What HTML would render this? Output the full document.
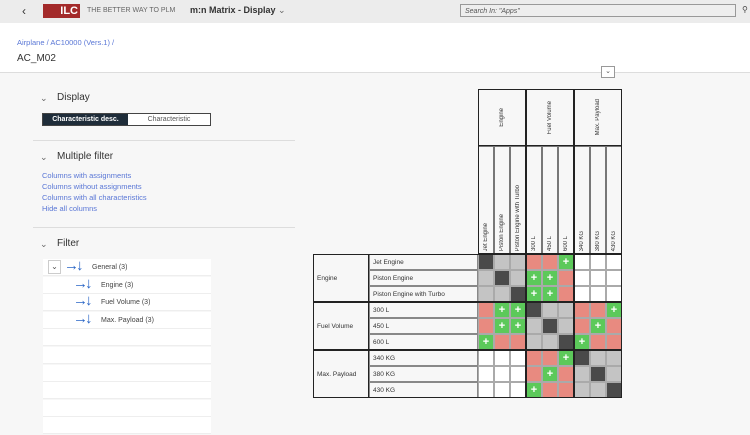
<!DOCTYPE html>
<html><head><meta charset="utf-8"><style>
body{margin:0;width:750px;height:435px;overflow:hidden;background:#f7f7f7;font-family:"Liberation Sans",sans-serif;position:relative}
.a{position:absolute}
.lnk{color:#5a77d6;font-size:7.5px}
.h{font-size:10px;color:#333}
.chev{font-size:9px;color:#666}
.fr{position:absolute;left:43px;width:168px;height:16px;background:#fff;border-bottom:1px solid #eee}
.arr{color:#2a66c6;font-size:15px;line-height:14px;font-weight:bold}
.cell{position:absolute;box-sizing:border-box;border:1px solid #999;display:flex;align-items:center;justify-content:center;color:#fff;font-weight:bold;font-size:11px}
.vt{position:absolute;writing-mode:vertical-rl;transform:rotate(180deg);font-size:6px;color:#333;white-space:nowrap}
.rl{position:absolute;font-size:6.5px;color:#333;background:#f7f7f7;box-sizing:border-box;border:1px solid #888;padding-left:3px;display:flex;align-items:center}
</style></head><body>
<div class="a" style="left:0;top:0;width:750px;height:23px;background:#ececec"></div>
<div class="a" style="left:22px;top:4px;font-size:12px;color:#333">&#8249;</div>
<div class="a" style="left:43px;top:4px;width:37px;height:14px;background:#a32a2a;color:#fff;font-weight:bold;font-size:11px;line-height:14px;text-align:right;padding-right:2px;box-sizing:border-box">ILC</div>
<div class="a" style="left:87px;top:7px;font-size:7px;color:#666">THE BETTER WAY TO PLM</div>
<div class="a" style="left:190px;top:5px;font-size:9px;font-weight:bold;color:#333">m:n Matrix - Display <span style="font-weight:normal;color:#666">&#8964;</span></div>
<div class="a" style="left:460px;top:4px;width:276px;height:13px;border:1px solid #999;background:#eee;font-size:7px;font-style:italic;color:#555;line-height:13px;padding-left:4px;box-sizing:border-box">Search In: "Apps"</div>
<div class="a" style="left:742px;top:5px;font-size:8px;color:#444">&#9906;</div>
<div class="a" style="left:0;top:23px;width:750px;height:49px;background:#fff;border-bottom:1px solid #ddd"></div>
<div class="a lnk" style="left:17px;top:38px">Airplane / AC10000 (Vers.1) /</div>
<div class="a" style="left:17px;top:53px;font-size:10px;color:#333">AC_M02</div>
<div class="a" style="left:601px;top:66px;width:12px;height:10px;border:1px solid #999;background:#fff;font-size:7px;text-align:center;line-height:9px;color:#555">&#8964;</div>

<div class="a chev" style="left:40px;top:93px">&#8964;</div>
<div class="a h" style="left:57px;top:92px">Display</div>
<div class="a" style="left:42px;top:113px;width:169px;height:13px;border:1px solid #444;background:#fff;box-sizing:border-box;font-size:7px">
<div class="a" style="left:0;top:0;width:85px;height:11px;background:#1f2d3a;color:#fff;font-weight:bold;text-align:center;line-height:11px">Characteristic desc.</div>
<div class="a" style="left:85px;top:0;width:82px;height:11px;color:#555;text-align:center;line-height:11px">Characteristic</div></div>
<div class="a" style="left:33px;top:140px;width:262px;height:1px;background:#ddd"></div>
<div class="a chev" style="left:40px;top:152px">&#8964;</div>
<div class="a h" style="left:57px;top:151px">Multiple filter</div>
<div class="a lnk" style="left:42px;top:171px">Columns with assignments</div>
<div class="a lnk" style="left:42px;top:182px">Columns without assignments</div>
<div class="a lnk" style="left:42px;top:193px">Columns with all characteristics</div>
<div class="a lnk" style="left:42px;top:204px">Hide all columns</div>
<div class="a" style="left:33px;top:227px;width:262px;height:1px;background:#ddd"></div>
<div class="a chev" style="left:40px;top:239px">&#8964;</div>
<div class="a h" style="left:57px;top:238px">Filter</div>
<div id="ft"></div>

<div id="mx"></div>
<script>
const groups=["Engine","Fuel Volume","Max. Payload"];
const items=["Jet Engine","Piston Engine","Piston Engine with Turbo","300 L","450 L","600 L","340 KG","380 KG","430 KG"];
const cellStates=[
"dggrrpwww","gdgpprwww","ggdpprwww",
"rppdggrrp","rppgdgrpr","prrggdprr",
"wwwrrpdgg","wwwrprgdg","wwwprrggd"];
const filterItems=["General (3)","Engine (3)","Fuel Volume (3)","Max. Payload (3)"];
const colors={d:"#4a4a4a",g:"#c4c4c4",r:"#e88a80",p:"#5cc95a",w:"#ffffff"};
const ft=document.getElementById('ft');
for(let i=0;i<10;i++){const r=document.createElement('div');r.className='fr';r.style.top=(259+i*17.6)+'px';


if(i<filterItems.length){const ind=i==0?21:30;
r.innerHTML=(i==0?'<span style="position:absolute;left:5px;top:1px;width:13px;height:14px;border:1px solid #ccc;box-sizing:border-box;font-size:8px;text-align:center;color:#555;line-height:12px">&#8964;</span>':'')+
'<span class="arr" style="position:absolute;left:'+ind+'px;top:0">&#8594;</span><span class="arr" style="position:absolute;left:'+(ind+12)+'px;top:0">&#8595;</span><span style="position:absolute;left:'+(ind+28)+'px;top:5px;font-size:7px;color:#444">'+filterItems[i]+'</span>';}
ft.appendChild(r);}
const mx=document.getElementById('mx');
const X0=478,CW=16,Y0=254,RH=16,GH=57,TOP=89;
function add(el){mx.appendChild(el);return el}
for(let g=0;g<groups.length;g++){
 const h=document.createElement('div');h.className='cell';
 
 
 Object.assign(h.style,{left:(X0+g*3*CW)+'px',top:TOP+'px',width:3*CW+'px',height:GH+'px',border:'1px solid #222',background:'#f7f7f7'});
 h.innerHTML='<span class="vt" style="position:static;color:#333;font-weight:normal">'+groups[g]+'</span>';add(h);
 const rl=document.createElement('div');rl.className='rl';
 
 
 Object.assign(rl.style,{left:'313px',top:(Y0+g*3*RH)+'px',width:'56px',height:3*RH+'px',border:'1px solid #222'});
 rl.textContent=groups[g];add(rl);
}
for(let c=0;c<items.length;c++){
 const h=document.createElement('div');h.className='cell';
 
 
 Object.assign(h.style,{left:(X0+c*CW)+'px',top:(TOP+GH)+'px',width:CW+'px',height:(Y0-TOP-GH)+'px',background:'#f7f7f7',alignItems:'flex-end',border:'1px solid #777'});
 h.innerHTML='<span class="vt" style="position:static;font-weight:normal;color:#333;margin-bottom:2px">'+items[c]+'</span>';add(h);
 const rl=document.createElement('div');rl.className='rl';
 
 
 Object.assign(rl.style,{left:'369px',top:(Y0+c*RH)+'px',width:'109px',height:RH+'px'});
 rl.textContent=items[c];add(rl);
}
for(let r=0;r<items.length;r++)for(let c=0;c<items.length;c++){
 const s=cellStates[r][c];const e=document.createElement('div');e.className='cell';
 
 
 Object.assign(e.style,{left:(X0+c*CW)+'px',top:(Y0+r*RH)+'px',width:CW+'px',height:RH+'px',background:colors[s],border:'1px solid #aaa'});
 if(s=='p')e.textContent='+';add(e);
}
for(let g=1;g<3;g++){
 const v=document.createElement('div');v.className='a';
 
 
 Object.assign(v.style,{left:(X0+g*3*CW-1)+'px',top:TOP+'px',width:'2px',height:(Y0+9*RH-TOP)+'px',background:'#222'});add(v);
 const h=document.createElement('div');h.className='a';
 
 
 Object.assign(h.style,{left:'313px',top:(Y0+g*3*RH-1)+'px',width:(X0+9*CW-313)+'px',height:'2px',background:'#222'});add(h);
}
const b=document.createElement('div');b.className='a';


Object.assign(b.style,{left:'313px',top:Y0+'px',width:(X0+9*CW-313)+'px',height:9*RH+'px',border:'1px solid #222',boxSizing:'border-box'});add(b);
const b2=document.createElement('div');b2.className='a';


Object.assign(b2.style,{left:X0+'px',top:TOP+'px',width:9*CW+'px',height:(Y0-TOP)+'px',border:'1px solid #222',boxSizing:'border-box'});add(b2);
</script>
</body></html>
